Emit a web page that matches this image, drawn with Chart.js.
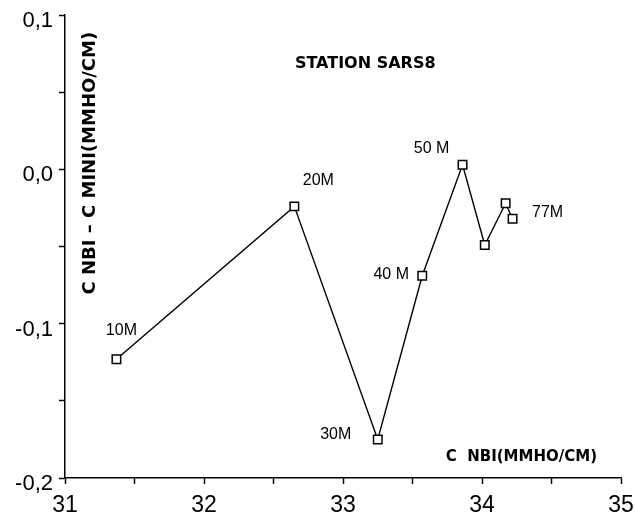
<!DOCTYPE html>
<html>
<head>
<meta charset="utf-8">
<script src="https://cdn.jsdelivr.net/npm/chart.js@4/dist/chart.umd.min.js"></script>
<style>
  html, body { margin: 0; padding: 0; background: #fff; }
  #wrap { width: 635px; height: 524px; }
</style>
</head>
<body>
<div id="wrap"><canvas id="chart-sars8" width="635" height="524"></canvas></div>
<script>
// station SARS8: conductivity difference vs conductivity NBI, by depth
const depthLabels = ["10M", "20M", "30M", "40 M", "50 M", "", "", "77M"];
const condNbi = [31.37, 32.65, 33.25, 33.57, 33.86, 34.02, 34.17, 34.22];
const condDiff = [-0.123, -0.024, -0.175, -0.069, 0.003, -0.049, -0.022, -0.032];

const xTicks = [31, 32, 33, 34, 35];
const yTicks = [-0.2, -0.1, 0.0, 0.1];

// label offsets from the point, px
const labelOffsets = [[5, -29], [24, -26], [-42, -5], [-31, -1], [-31, -16], [0, 0], [0, 0], [35, -6]];

const isMajor = (v, list) => list.some((t) => Math.abs(t - v) < 1e-6);

const annotations = {
  id: "annotations",
  afterDatasetsDraw(chart) {
    const { ctx, chartArea: a } = chart;
    const w = a.right - a.left;
    const h = a.bottom - a.top;
    ctx.save();
    ctx.fillStyle = "#000";
    ctx.textAlign = "center";
    ctx.textBaseline = "middle";

    // point labels
    ctx.font = "16px 'Liberation Sans', Arial, sans-serif";
    const meta = chart.getDatasetMeta(0);
    depthLabels.forEach((lbl, i) => {
      if (!lbl) return;
      const p = meta.data[i];
      ctx.fillText(lbl, p.x + labelOffsets[i][0], p.y + labelOffsets[i][1]);
    });

    // title
    ctx.font = "bold 16px 'DejaVu Sans', sans-serif";
    ctx.fillText("STATION SARS8", a.left + w * 0.54, a.top + h * 0.106);

    // x axis title, inside plot
    ctx.font = "bold 15px 'DejaVu Sans', sans-serif";
    ctx.textAlign = "right";
    ctx.fillText("C  NBI(MMHO/CM)", a.right - 24, a.top + h * 0.955);

    // y axis title, inside plot
    ctx.translate(a.left + 25, a.top + h * 0.32);
    ctx.rotate(-Math.PI / 2);
    ctx.textAlign = "center";
    ctx.font = "bold 18px 'DejaVu Sans', sans-serif";
    ctx.fillText("C NBI \u2013 C MINI(MMHO/CM)", 0, 0);
    ctx.restore();
  },
};

new Chart(document.getElementById("chart-sars8"), {
  type: "scatter",
  data: {
    datasets: [{
      data: condNbi.map((x, i) => ({ x, y: condDiff[i] })),
      showLine: true,
      borderColor: "#000",
      borderWidth: 1.4,
      pointStyle: "rect",
      pointRadius: 6,
      pointBorderWidth: 1.5,
      pointBackgroundColor: "#fff",
      pointBorderColor: "#000",
      tension: 0,
    }],
  },
  options: {
    responsive: false,
    animation: false,
    devicePixelRatio: 1,
    layout: { padding: { top: 15, right: 14, left: 0, bottom: 0 } },
    plugins: {
      legend: { display: false },
      tooltip: { enabled: false },
    },
    scales: {
      x: {
        type: "linear",
        min: 31,
        max: 35,
        afterFit: (s) => {
          s.height = 46;
          s.paddingLeft = 0;
          s.paddingRight = 0;
        },
        border: { color: "#000", width: 1.5 },
        grid: { drawOnChartArea: false, color: "#000", tickLength: 6, tickWidth: 1.5 },
        ticks: {
          stepSize: 0.5,
          padding: 8,
          color: "#000",
          maxRotation: 0,
          autoSkip: false,
          font: { family: "'Liberation Sans', Arial, sans-serif", size: 23 },
          callback: (v) => (isMajor(v, xTicks) ? String(Math.round(v)) : ""),
        },
      },
      y: {
        type: "linear",
        min: -0.2,
        max: 0.1,
        afterFit: (s) => {
          s.width = 65;
          s.paddingTop = 0;
          s.paddingBottom = 0;
        },
        border: { color: "#000", width: 1.5 },
        grid: { drawOnChartArea: false, color: "#000", tickLength: 6, tickWidth: 1.5 },
        ticks: {
          stepSize: 0.05,
          padding: 6,
          color: "#000",
          autoSkip: false,
          labelOffset: 6,
          font: { family: "'Liberation Sans', Arial, sans-serif", size: 22 },
          callback: (v) => {
            if (!isMajor(v, yTicks)) return "";
            if (Math.abs(v) < 1e-9) return "0,0";
            return v.toFixed(1).replace(".", ",");
          },
        },
      },
    },
  },
  plugins: [annotations],
});
</script>
</body>
</html>
